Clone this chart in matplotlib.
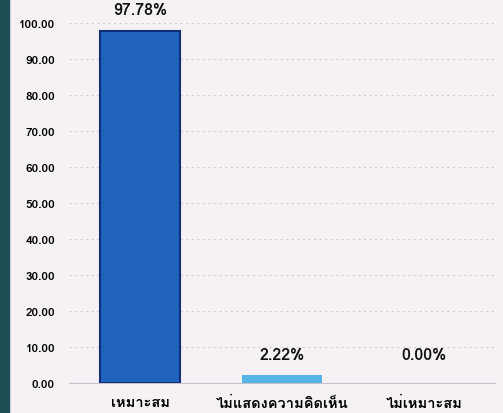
import matplotlib
matplotlib.use('Agg')
import matplotlib.pyplot as plt
from matplotlib import font_manager
from matplotlib.ft2font import FT2Font
from matplotlib.patches import Rectangle

categories = ['เหมาะสม', 'ไม่แสดงความคิดเห็น', 'ไม่เหมาะสม']
values = [97.78, 2.22, 0.00]
labels = ['97.78%', '2.22%', '0.00%']
label_y = [101.6, 5.8, 5.8]
yticks = [0, 10, 20, 30, 40, 50, 60, 70, 80, 90, 100]

# look for any installed font that can draw Thai
thai_font = None
for f in font_manager.fontManager.ttflist:
    try:
        if 0x0E40 in FT2Font(f.fname).get_charmap():
            thai_font = f.name
            break
    except Exception:
        pass
families = [thai_font, 'DejaVu Sans'] if thai_font else ['DejaVu Sans']

plt.rcParams['font.family'] = families

fig = plt.figure(figsize=(5.03, 4.14), dpi=100)
fig.patch.set_facecolor('#f5f1f4')
ax = fig.add_axes([0.137, 0.0725, 0.848, 0.87])
ax.set_facecolor('#f5f1f4')

colors = ['#1f63bd', '#55b4e6', '#55b4e6']
edges = ['#0e2e78', '#55b4e6', '#55b4e6']
widths = [1.5, 0, 0]
x = range(len(categories))
ax.bar(x, values, width=0.56, color=colors, edgecolor=edges, linewidth=widths, zorder=3)

for i, v in enumerate(values):
    ax.text(i, label_y[i], labels[i], ha='center', va='bottom', fontsize=11.5,
            fontweight='bold', color='#111111', clip_on=False)

ax.set_xlim(-0.5, 2.5)
ax.set_ylim(0, 100)
ax.set_yticks(yticks)
ax.set_yticklabels(['%.2f' % t for t in yticks], fontsize=8.5, fontweight='bold')
ax.yaxis.grid(True, linestyle=(0, (2, 3)), color='#d6ccd8', linewidth=0.8, zorder=0)
ax.set_xticks(list(x))
ax.set_xticklabels(categories, fontsize=10.5, fontweight='bold')
ax.tick_params(axis='x', length=0, pad=9)
ax.tick_params(axis='y', length=0, pad=10)
for s in ['top', 'right', 'left']:
    ax.spines[s].set_visible(False)
ax.spines['bottom'].set_color('#c9bfcc')

# dark photo edge on the left
fig.patches.append(Rectangle((0, 0), 0.018, 1, transform=fig.transFigure,
                             color='#1f4f55', zorder=0))

fig.savefig('out.png', dpi=100, facecolor=fig.get_facecolor())
